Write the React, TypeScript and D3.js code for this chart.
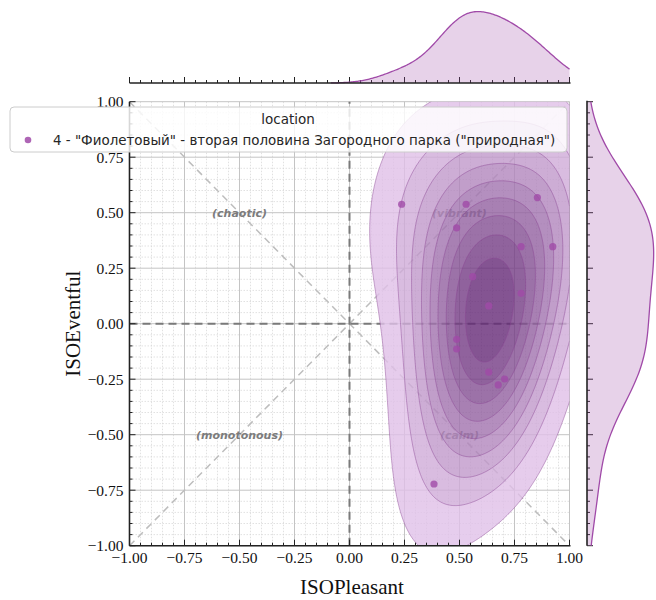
import React, { useMemo } from 'react';
import * as d3 from 'd3';

// ---- data ----
const pleasant = [0.237, 0.53, 0.854, 0.487, 0.78, 0.924, 0.56, 0.78, 0.633, 0.487, 0.487, 0.633, 0.705, 0.676, 0.384];
const eventful = [0.538, 0.538, 0.568, 0.432, 0.347, 0.347, 0.212, 0.137, 0.08, -0.07, -0.114, -0.218, -0.249, -0.276, -0.722];
const majorTicks = [-1, -0.75, -0.5, -0.25, 0, 0.25, 0.5, 0.75, 1];
const quadrantNames = ['(chaotic)', '(vibrant)', '(monotonous)', '(calm)'];
const quadrantX = [-0.5, 0.5, -0.5, 0.5];
const quadrantY = [0.5, 0.5, -0.5, -0.5];
const legendTitle = 'location';
const legendLabel = '4 - "Фиолетовый" - вторая половина Загородного парка ("природная")';
const xLabel = 'ISOPleasant';
const yLabel = 'ISOEventful';

const W = 656, H = 600;
const PX0 = 129.5, PX1 = 569.5, PY0 = 101.7, PY1 = 545.7;
const COLOR = '#a04aa8';
const SERIF = '"Liberation Serif", "Times New Roman", serif';
const SANS = '"DejaVu Sans", sans-serif';
const BW_ADJUST = 1.55;

function linspace(a: number, b: number, n: number) {
  return d3.range(n).map(i => a + (b - a) * i / (n - 1));
}
function fmt(v: number) {
  return d3.format('.2f')(v).replace('-', '\u2212');
}

export default function App() {
  const x = d3.scaleLinear().domain([-1, 1]).range([PX0, PX1]);
  const y = d3.scaleLinear().domain([-1, 1]).range([PY1, PY0]);

  const kde = useMemo(() => {
    const n = pleasant.length;
    const mx = d3.mean(pleasant)!, my = d3.mean(eventful)!;
    let sxx = 0, syy = 0, sxy = 0;
    for (let i = 0; i < n; i++) {
      const dx = pleasant[i] - mx, dy = eventful[i] - my;
      sxx += dx * dx; syy += dy * dy; sxy += dx * dy;
    }
    sxx /= n - 1; syy /= n - 1; sxy /= n - 1;
    const f2 = Math.pow(Math.pow(n, -1 / 6) * BW_ADJUST, 2);
    const cxx = sxx * f2, cyy = syy * f2, cxy = sxy * f2;
    const det = cxx * cyy - cxy * cxy;
    const ia = cyy / det, ib = -cxy / det, ic = cxx / det;
    const bwx = Math.sqrt(cxx), bwy = Math.sqrt(cyy);
    const G = 200;
    const gx = linspace(Math.max(d3.min(pleasant)! - 3 * bwx, -1), Math.min(d3.max(pleasant)! + 3 * bwx, 1), G);
    const gy = linspace(Math.max(d3.min(eventful)! - 3 * bwy, -1), Math.min(d3.max(eventful)! + 3 * bwy, 1), G);
    const vals = new Array(G * G);
    for (let j = 0; j < G; j++) {
      for (let i = 0; i < G; i++) {
        let s = 0;
        for (let k = 0; k < n; k++) {
          const dx = gx[i] - pleasant[k], dy = gy[j] - eventful[k];
          s += Math.exp(-0.5 * (ia * dx * dx + 2 * ib * dx * dy + ic * dy * dy));
        }
        vals[j * G + i] = s;
      }
    }
    const sorted = vals.slice().sort((a, b) => b - a);
    const total = d3.sum(sorted);
    const cum: number[] = [];
    let acc = 0;
    for (const v of sorted) { acc += v; cum.push(acc / total); }
    const props = linspace(0.05, 1, 10);
    const levels = props.map(p => {
      const idx = d3.bisectLeft(cum, 1 - p);
      return sorted[Math.min(idx, sorted.length - 1)];
    });
    const contours = d3.contours().size([G, G]).thresholds(levels.slice(0, 9))(vals);
    const sx = (gx[G - 1] - gx[0]) / (G - 1), sy = (gy[G - 1] - gy[0]) / (G - 1);
    const proj = d3.geoTransform({
      point(px: number, py: number) {
        (this as any).stream.point(x(gx[0] + (px - 0.5) * sx), y(gy[0] + (py - 0.5) * sy));
      }
    });
    const path = d3.geoPath(proj);
    const ramp = d3.interpolateLab('#e0c0e8', '#662a78');
    const bands = contours.map((c, k) => ({
      d: path(c as any) || '',
      fill: ramp(k / 8),
    }));

    const kde1 = (data: number[]) => {
      const m = d3.mean(data)!;
      const sd = Math.sqrt(d3.sum(data, v => (v - m) ** 2) / (n - 1));
      const bw = sd * Math.pow(n, -1 / 5);
      const g = linspace(Math.max(d3.min(data)! - 3 * bw, -1), Math.min(d3.max(data)! + 3 * bw, 1), 200);
      return g.map(v => [v, d3.sum(data, d => Math.exp(-0.5 * ((v - d) / bw) ** 2)) / (n * bw * Math.sqrt(2 * Math.PI))] as [number, number]);
    };
    return { bands, mx: kde1(pleasant), my: kde1(eventful) };
  }, []);

  const minor = d3.range(-100, 101, 5).map(v => v / 100).filter(v => !majorTicks.some(m => Math.abs(m - v) < 1e-9));
  const allTicks = d3.range(-100, 101, 5).map(v => v / 100);

  const TOPBASE = 83;
  const ty = d3.scaleLinear().domain([0, d3.max(kde.mx, d => d[1])! * 1.05]).range([TOPBASE, 8]);
  const topArea = d3.area<[number, number]>().x(d => x(d[0])).y0(TOPBASE).y1(d => ty(d[1]))(kde.mx) || '';
  const topLine = d3.line<[number, number]>().x(d => x(d[0])).y(d => ty(d[1]))(kde.mx) || '';
  const RBASE = 587;
  const rx = d3.scaleLinear().domain([0, d3.max(kde.my, d => d[1])! * 1.05]).range([RBASE, 657]);
  const rArea = d3.area<[number, number]>().y(d => y(d[0])).x0(RBASE).x1(d => rx(d[1]))(kde.my) || '';
  const rLine = d3.line<[number, number]>().y(d => y(d[0])).x(d => rx(d[1]))(kde.my) || '';

  return (
    <svg width={W} height={H} style={{ display: 'block', position: 'absolute', left: 0, top: 0 }}>
      <defs>
        <clipPath id="plotclip"><rect x={PX0} y={PY0} width={PX1 - PX0} height={PY1 - PY0} /></clipPath>
      </defs>
      <rect width={W} height={H} fill="#fff" />
      <g>
        {minor.map(v => (
          <g key={'m' + v}>
            <line x1={x(v)} x2={x(v)} y1={PY0} y2={PY1} stroke="#d4d4d4" strokeWidth={0.7} strokeDasharray="1.5,1.5" />
            <line y1={y(v)} y2={y(v)} x1={PX0} x2={PX1} stroke="#d4d4d4" strokeWidth={0.7} strokeDasharray="1.5,1.5" />
          </g>
        ))}
        {majorTicks.map(v => (
          <g key={'M' + v}>
            <line x1={x(v)} x2={x(v)} y1={PY0} y2={PY1} stroke="#c4c4c4" strokeWidth={1} />
            <line y1={y(v)} y2={y(v)} x1={PX0} x2={PX1} stroke="#c4c4c4" strokeWidth={1} />
          </g>
        ))}
      </g>
      <line x1={x(-1)} y1={y(-1)} x2={x(1)} y2={y(1)} stroke="#bdbdbd" strokeWidth={1.5} strokeDasharray="7,5" />
      <line x1={x(-1)} y1={y(1)} x2={x(1)} y2={y(-1)} stroke="#bdbdbd" strokeWidth={1.5} strokeDasharray="7,5" />
      <line x1={x(-1)} y1={y(0)} x2={x(1)} y2={y(0)} stroke="#7a7a7a" strokeWidth={2} strokeDasharray="8,5" />
      <line x1={x(0)} y1={y(-1)} x2={x(0)} y2={y(1)} stroke="#7a7a7a" strokeWidth={2} strokeDasharray="8,5" />
      {quadrantNames.map((t, i) => (
        <text key={t} x={x(quadrantX[i])} y={y(quadrantY[i])} dy="0.35em" textAnchor="middle"
          fontFamily={SANS} fontSize={11} fontWeight="bold" fontStyle="italic" fill="#7c7c7c">{t}</text>
      ))}
      <g clipPath="url(#plotclip)">
        <g opacity={0.8}>
          {kde.bands.map((b, i) => <path key={i} d={b.d} fill={b.fill} stroke="none" />)}
        </g>
        <g>
          {kde.bands.map((b, i) => <path key={'l' + i} d={b.d} fill="none" stroke="#8a4592" strokeOpacity={0.5} strokeWidth={0.9} />)}
        </g>
      </g>
      {pleasant.map((p, i) => (
        <circle key={i} cx={x(p)} cy={y(eventful[i])} r={3.6} fill={COLOR} fillOpacity={0.8} />
      ))}
      <g stroke="#222" strokeWidth={1}>
        {allTicks.map(v => {
          const major = majorTicks.some(m => Math.abs(m - v) < 1e-9);
          const L = major ? 6 : 3;
          return (
            <g key={'t' + v}>
              <line x1={x(v)} x2={x(v)} y1={PY1} y2={PY1 - L} />
              <line y1={y(v)} y2={y(v)} x1={PX0} x2={PX0 + L} />
              <line x1={x(v)} x2={x(v)} y1={TOPBASE} y2={TOPBASE - L} />
              <line y1={y(v)} y2={y(v)} x1={RBASE} x2={RBASE + L} />
            </g>
          );
        })}
      </g>
      <line x1={PX0} x2={PX1 + 1} y1={PY1} y2={PY1} stroke="#222" strokeWidth={1.6} />
      <line x1={PX0} x2={PX0} y1={PY0} y2={PY1} stroke="#222" strokeWidth={1.6} />
      {majorTicks.map(v => (
        <text key={'xl' + v} x={x(v)} y={PY1 + 17} textAnchor="middle" fontFamily={SERIF} fontSize={15.5} fill="#111">{fmt(v)}</text>
      ))}
      {majorTicks.map(v => (
        <text key={'yl' + v} x={PX0 - 6} y={y(v)} dy="0.35em" textAnchor="end" fontFamily={SERIF} fontSize={15.5} fill="#111">{fmt(v)}</text>
      ))}
      <path d={topArea} fill={COLOR} fillOpacity={0.25} />
      <path d={topLine} fill="none" stroke={COLOR} strokeWidth={1.3} />
      <line x1={PX0} x2={PX1 + 1} y1={TOPBASE} y2={TOPBASE} stroke="#222" strokeWidth={1.6} />
      <path d={rArea} fill={COLOR} fillOpacity={0.25} />
      <path d={rLine} fill="none" stroke={COLOR} strokeWidth={1.3} />
      <line x1={RBASE} x2={RBASE} y1={PY0 - 1} y2={PY1} stroke="#222" strokeWidth={1.6} />
      <text x={352} y={594} textAnchor="middle" fontFamily={SERIF} fontSize={21} fill="#111">{xLabel}</text>
      <text transform={`translate(80,${(PY0 + PY1) / 2}) rotate(-90)`} textAnchor="middle" fontFamily={SERIF} fontSize={21} fill="#111">{yLabel}</text>
      <rect x={10} y={107} width={557} height={45} rx={4} fill="#fff" fillOpacity={0.82} stroke="#cccccc" strokeWidth={1} />
      <text x={288} y={124} textAnchor="middle" fontFamily={SANS} fontSize={13.5} fill="#262626">{legendTitle}</text>
      <circle cx={28} cy={140} r={3.3} fill={COLOR} fillOpacity={0.85} />
      <text x={53} y={145} fontFamily={SANS} fontSize={13.45} fill="#262626">{legendLabel}</text>
    </svg>
  );
}
